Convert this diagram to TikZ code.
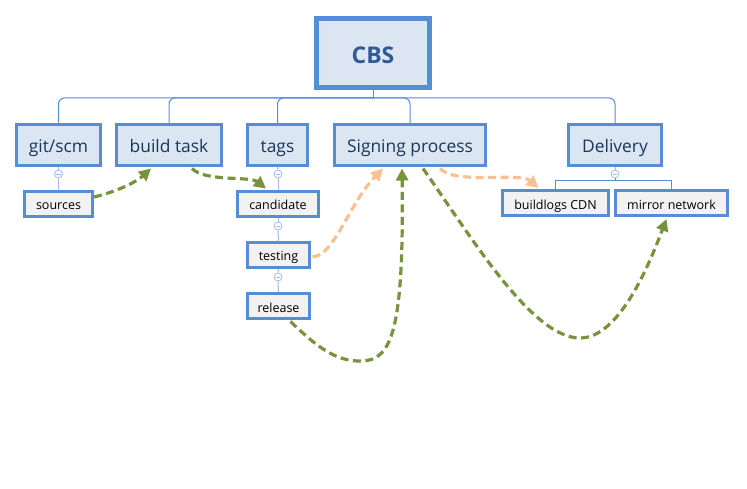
\documentclass[tikz,border=0pt]{standalone}
\usepackage{fontspec}
\setmainfont{Open Sans}
\usetikzlibrary{arrows.meta,calc}
\definecolor{boxfill}{HTML}{DCE6F2}
\definecolor{subfill}{HTML}{F2F2F2}
\definecolor{boxline}{HTML}{558ED5}
\definecolor{treeline}{HTML}{558ED5}
\definecolor{lightline}{HTML}{9DBDE8}
\definecolor{maintext}{HTML}{17375E}
\definecolor{cbstext}{HTML}{2F5A94}
\definecolor{greenarrow}{HTML}{77933C}
\definecolor{orangearrow}{HTML}{FAC090}
\tikzset{
  mainbox/.style={draw=boxline, fill=boxfill, line width=3pt, inner sep=0pt,
    minimum height=41pt, text height=16pt, text depth=0pt, text=maintext,
    font=\fontsize{17.4}{20}\selectfont},
  subbox/.style={draw=boxline, fill=subfill, line width=3pt, inner sep=0pt,
    minimum height=25pt, text height=12pt, text depth=0pt, text=black,
    font=\fontsize{12.5}{15}\selectfont},
  rootbox/.style={draw=boxline, fill=boxfill, line width=5pt, inner sep=0pt,
    minimum width=113pt, minimum height=69pt, text height=20.6pt, text depth=0pt,
    text=cbstext, font=\fontsize{23}{26}\selectfont\bfseries},
  tree/.style={draw=treeline, line width=1pt},
  ltree/.style={draw=lightline, line width=1pt},
  collapse/.style={circle, draw=lightline, fill=white, line width=0.8pt,
    minimum size=8pt, inner sep=0pt,
    path picture={\draw[lightline, line width=0.8pt]
      ($(path picture bounding box.center)+(-2.2,0)$) --
      ($(path picture bounding box.center)+(2.2,0)$);}},
  garrow/.style={draw=greenarrow, line width=3.2pt, dash pattern=on 8pt off 4.5pt,
    -{Triangle[length=12pt,width=12pt]}},
  oarrow/.style={draw=orangearrow, line width=3.2pt, dash pattern=on 8pt off 4.5pt,
    -{Triangle[length=12pt,width=12pt]}},
}
\begin{document}
\begin{tikzpicture}[x=1pt,y=-1pt]
\useasboundingbox (0,0) rectangle (747,489);
% nodes
\node[rootbox] (cbs) at (373,53) {CBS};
\node[mainbox, minimum width=84pt] (git) at (58.5,145) {git/scm};
\node[mainbox, minimum width=105pt] (bt) at (169,145) {build task};
\node[mainbox, minimum width=60pt] (tags) at (277.5,145) {tags};
\node[mainbox, minimum width=151pt] (sig) at (410,145) {Signing process};
\node[mainbox, minimum width=93pt] (del) at (615,145) {Delivery};
\node[subbox, minimum width=68pt] (src) at (58.5,204) {sources};
\node[subbox, minimum width=81pt] (cand) at (278,204) {candidate};
\node[subbox, minimum width=62pt] (test) at (278.5,255) {testing};
\node[subbox, minimum width=62pt] (rel) at (278.5,306) {release};
\node[subbox, minimum width=106pt] (cdn) at (555.5,203.5) {buildlogs CDN};
\node[subbox, minimum width=112pt] (mir) at (671.5,203.5) {mirror network};
% tree lines
\coordinate (hub) at (373,98);
\draw[tree] (cbs.south) -- (hub);
\foreach \c in {git,bt,tags,sig,del}{
  \draw[tree, rounded corners=6pt] (hub) -| (\c.north);
}
\node[collapse] (k1) at (58.5,174) {};
\node[collapse] (k2) at (278,174) {};
\node[collapse] (k3) at (278,226) {};
\node[collapse] (k4) at (278,277) {};
\node[collapse] (k5) at (615,174) {};
\draw[ltree] (git.south) -- (k1.north);
\draw[ltree] (k1.south) -- (src.north);
\draw[ltree] (tags.south) -- (k2.north);
\draw[ltree] (k2.south) -- (cand.north);
\draw[ltree] (cand.south) -- (k3.north);
\draw[ltree] (k3.south) -- (test.north);
\draw[ltree] (test.south) -- (k4.north);
\draw[ltree] (k4.south) -- (rel.north);
\draw[ltree] (del.south) -- (k5.north);
\coordinate (dhub) at (615,181);
\draw[tree] (k5.south) -- (dhub);
\draw[tree] (dhub) -| (cdn.north);
\draw[tree] (dhub) -| (mir.north);
% arrows
\draw[garrow] ($(src.east)+(0,-7)$) .. controls (115,192) and (135,183) .. ($(bt.south)+(-18,1.5)$);
\draw[garrow] ($(bt.south)+(23,1.5)$) .. controls (205,182) and (250,176) .. ($(cand.north)+(-12,-1.5)$);
\draw[oarrow] ($(test.east)+(1.5,2)$) .. controls (335,255) and (348,205) .. ($(sig.south)+(-27,1.5)$);
\draw[garrow] ($(rel.south)+(12,1.5)$) .. controls (315,345) and (335,362) .. (362,361)
   .. controls (392,360) and (404,330) .. ($(sig.south)+(-8,1.5)$);
\draw[garrow] ($(sig.south)+(13,1.5)$) .. controls (472,238) and (532,338) .. (580,338)
   .. controls (620,338) and (650,262) .. ($(mir.south)+(-5,1.5)$);
\draw[oarrow] ($(sig.south)+(30,1.5)$) .. controls (455,185) and (520,172) .. ($(cdn.north)+(-17,-1.5)$);
\end{tikzpicture}
\end{document}
